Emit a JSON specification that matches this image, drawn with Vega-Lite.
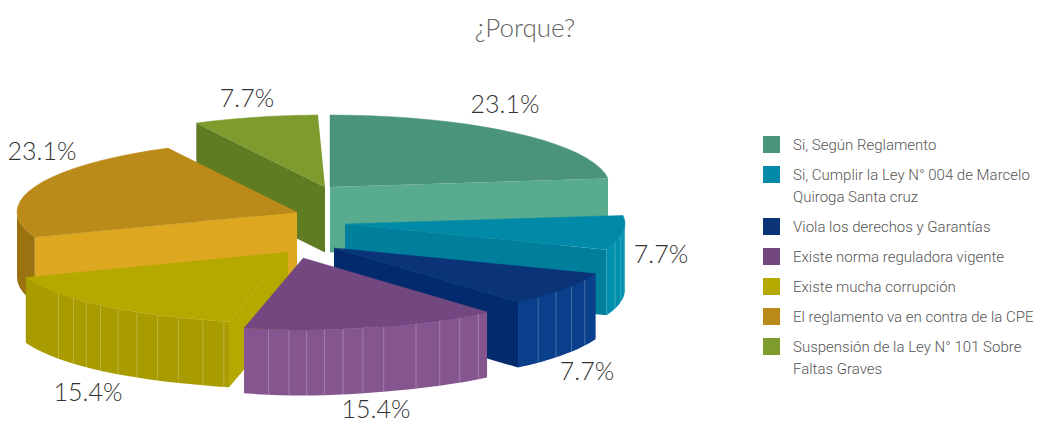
{
"$schema":"https://vega.github.io/schema/vega-lite/v6.json",
"width":1044,"height":424,"padding":0,"autosize":"none",
"title":{"text":"¿Porque?","font":"Lato","fontWeight":300,"fontSize":26,"color":"#666666","anchor":"middle","frame":"group","dx":3,"dy":46},
"config":{"view":{"stroke":null}},
"data":{"values":[
{"orden":7,"motivo":"Suspensión de la Ley N° 101 Sobre Faltas Graves","pct":7.7},
{"orden":1,"motivo":"Si, Según Reglamento","pct":23.1},
{"orden":6,"motivo":"El reglamento va en contra de la CPE","pct":23.1},
{"orden":2,"motivo":"Si, Cumplir la Ley N° 004 de Marcelo Quiroga Santa cruz","pct":7.7},
{"orden":3,"motivo":"Viola los derechos y Garantías","pct":7.7},
{"orden":5,"motivo":"Existe mucha corrupción","pct":15.4},
{"orden":4,"motivo":"Existe norma reguladora vigente","pct":15.4}
]},
"transform":[
{"window":[{"op":"sum","field":"pct","as":"cum"}],"sort":[{"field":"orden"}]},
{"calculate":"datum.cum*PI/50","as":"theta2"},
{"calculate":"datum.theta2-datum.pct*PI/50","as":"theta1"},
{"calculate":"datum.orden-1","as":"idx"},
{"calculate":"([330,345,334,303,288,297,325][datum.idx]-318)/280","as":"ax"},
{"calculate":"(222-[187,224,248,258,252,212,187][datum.idx])/72","as":"ay"}
],
"encoding":{
"x":{"field":"px","type":"quantitative","axis":null,"scale":{"domain":[-1.135714,2.592857],"nice":false,"zero":false}},
"y":{"field":"py","type":"quantitative","axis":null,"scale":{"domain":[-2.805556,3.083333],"nice":false,"zero":false}}
},
"layer":[
{"transform":[
{"filter":"datum.orden!=4"},
{"calculate":"datum.orden<=3?datum.theta2:datum.theta1","as":"th"},
{"calculate":"[0,1]","as":"t"},{"flatten":["t"]},
{"calculate":"datum.ax+datum.t*sin(datum.th)*(1-0.19*pow(max(-cos(datum.th),0),12))","as":"px"},
{"calculate":"datum.ay+datum.t*cos(datum.th)","as":"py"},
{"calculate":"datum.py-0.91","as":"py2"}],
"mark":{"type":"area","stroke":null},
"encoding":{"y2":{"field":"py2"},"detail":{"field":"motivo"},
"fill":{"field":"motivo","type":"nominal","legend":null,"scale":{
"domain":["Si, Según Reglamento","Si, Cumplir la Ley N° 004 de Marcelo Quiroga Santa cruz","Viola los derechos y Garantías","Existe norma reguladora vigente","Existe mucha corrupción","El reglamento va en contra de la CPE","Suspensión de la Ley N° 101 Sobre Faltas Graves"],
"range":["#58ab8e","#007f9c","#032a6c","#85558f","#b5a900","#dda720","#5f7c23"]}}}},
{"transform":[
{"filter":"datum.theta2>PI/2 && datum.theta1<3*PI/2"},
{"calculate":"[0,0.05,0.1,0.15,0.2,0.25,0.3,0.35,0.4,0.45,0.5,0.55,0.6,0.65,0.7,0.75,0.8,0.85,0.9,0.95,1]","as":"t"},{"flatten":["t"]},
{"calculate":"clamp(datum.theta1+datum.t*(datum.theta2-datum.theta1),PI/2,3*PI/2)","as":"th"},
{"calculate":"datum.ax+sin(datum.th)*(1-0.19*pow(max(-cos(datum.th),0),12))","as":"px"},
{"calculate":"datum.ay+cos(datum.th)","as":"py"},
{"calculate":"datum.py-0.91","as":"py2"}],
"mark":{"type":"area","stroke":null},
"encoding":{"y2":{"field":"py2"},"detail":{"field":"motivo"},
"fill":{"field":"motivo","type":"nominal","legend":null,"scale":{
"domain":["Si, Según Reglamento","Si, Cumplir la Ley N° 004 de Marcelo Quiroga Santa cruz","Viola los derechos y Garantías","Existe norma reguladora vigente","Existe mucha corrupción","El reglamento va en contra de la CPE","Suspensión de la Ley N° 101 Sobre Faltas Graves"],
"range":["#58ab8e","#0090ad","#0a3f8c","#85558f","#a89c00","#9a7210","#5f7c23"]}}}},
{"transform":[
{"filter":"datum.orden>=2 && datum.orden<=5"},
{"calculate":"datum.orden==4?[0.04,0.12,0.2,0.29,0.41,0.49,0.57,0.65,0.73,0.81,0.9]:datum.orden==5?[0.02,0.1,0.19,0.27,0.35,0.43,0.51,0.58,0.65,0.74]:[0.2,0.4,0.6,0.8]","as":"t"},{"flatten":["t"]},
{"calculate":"clamp(datum.theta1+datum.t*(datum.theta2-datum.theta1),PI/2,3*PI/2)","as":"th"},
{"calculate":"datum.ax+sin(datum.th)*(1-0.19*pow(max(-cos(datum.th),0),12))","as":"px"},
{"calculate":"datum.ay+cos(datum.th)","as":"py"},
{"calculate":"datum.py-0.91","as":"py2"}],
"mark":{"type":"rule","stroke":"#ffffff","strokeOpacity":0.35,"strokeWidth":0.7},
"encoding":{"y2":{"field":"py2"}}},
{"transform":[
{"calculate":"[-1,0,0.05,0.1,0.15,0.2,0.25,0.3,0.35,0.4,0.45,0.5,0.55,0.6,0.65,0.7,0.75,0.8,0.85,0.9,0.95,1]","as":"t"},{"flatten":["t"]},
{"calculate":"min(datum.theta1+max(datum.t,0)*(datum.theta2-datum.theta1),6.258)","as":"th"},
{"calculate":"datum.t<0?datum.ax:datum.ax+sin(datum.th)*(1-0.19*pow(max(-cos(datum.th),0),12))","as":"px"},
{"calculate":"datum.t<0?datum.ay:datum.ay+cos(datum.th)","as":"py"}],
"mark":{"type":"line","strokeWidth":0.5},
"encoding":{"order":{"field":"t","type":"quantitative"},"detail":{"field":"motivo"},
"stroke":{"field":"motivo","type":"nominal","legend":null,"scale":{
"domain":["Si, Según Reglamento","Si, Cumplir la Ley N° 004 de Marcelo Quiroga Santa cruz","Viola los derechos y Garantías","Existe norma reguladora vigente","Existe mucha corrupción","El reglamento va en contra de la CPE","Suspensión de la Ley N° 101 Sobre Faltas Graves"],
"range":["#4a9479","#008aa8","#0a3378","#734880","#b5a900","#ba8b18","#7e9c2e"]}},
"fill":{"field":"motivo","type":"nominal","title":null,
"scale":{
"domain":["Si, Según Reglamento","Si, Cumplir la Ley N° 004 de Marcelo Quiroga Santa cruz","Viola los derechos y Garantías","Existe norma reguladora vigente","Existe mucha corrupción","El reglamento va en contra de la CPE","Suspensión de la Ley N° 101 Sobre Faltas Graves"],
"range":["#4a9479","#008aa8","#0a3378","#734880","#b5a900","#ba8b18","#7e9c2e"]},
"legend":{"orient":"none","legendX":763,"legendY":136,"symbolType":"square","symbolSize":289,"symbolStrokeWidth":0,"symbolStrokeColor":"transparent","labelFont":"Roboto","labelFontWeight":300,"labelFontSize":15,"labelColor":"#555555","labelOffset":13,"labelLimit":300,"rowPadding":13,
"encode":{"labels":{"update":{"lineHeight":{"value":22}}}},
"labelExpr":"datum.label=='Si, Cumplir la Ley N° 004 de Marcelo Quiroga Santa cruz'?['Si, Cumplir la Ley N° 004 de Marcelo','Quiroga Santa cruz']:datum.label=='Suspensión de la Ley N° 101 Sobre Faltas Graves'?['Suspensión de la Ley N° 101 Sobre','Faltas Graves']:datum.label"}}}},
{"transform":[
{"calculate":"([505,661,587,376,88,42,247][datum.idx]-318)/280","as":"px"},
{"calculate":"(222-[105,255,372,410,393,152,99][datum.idx])/72","as":"py"},
{"calculate":"format(datum.pct,'.1f')+'%'","as":"etiqueta"}],
"mark":{"type":"text","font":"Lato","fontWeight":300,"fontSize":25,"color":"#333333","align":"center","baseline":"middle"},
"encoding":{"text":{"field":"etiqueta"}}}
],
"resolve":{"scale":{"fill":"independent","stroke":"independent"}}
}
